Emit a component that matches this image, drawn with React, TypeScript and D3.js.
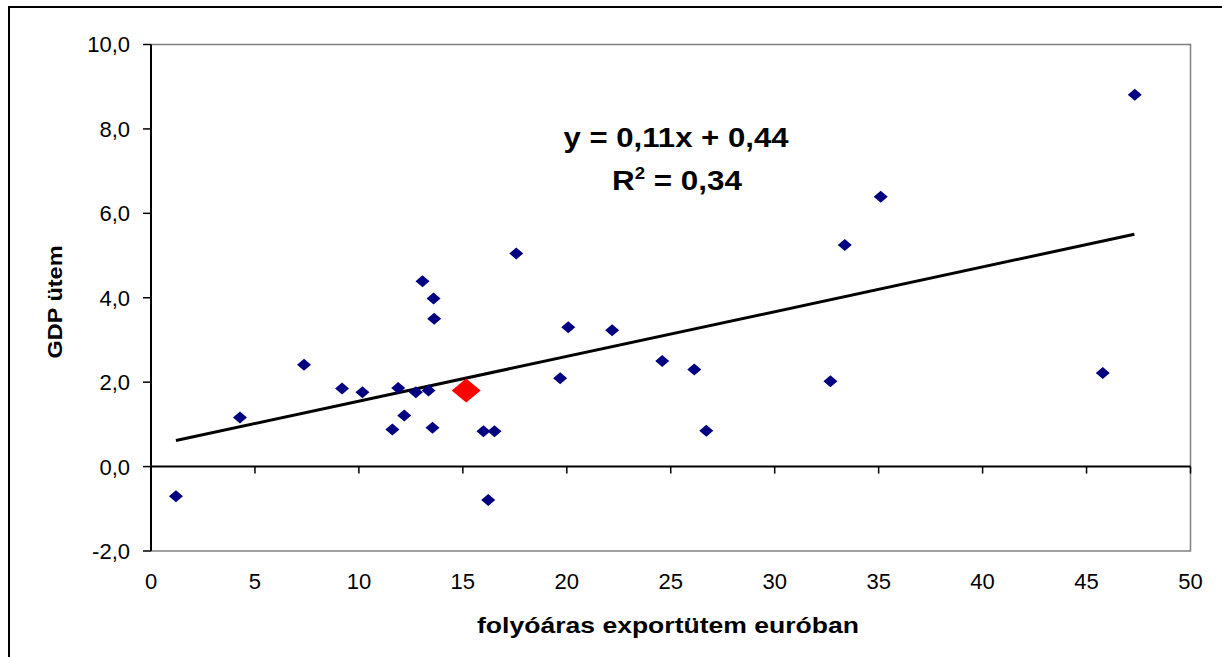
import React from "react";
import * as d3 from "d3";

const exportGrowth = [1.2, 4.28, 7.36, 9.19, 10.17, 11.89, 12.74, 13.35, 11.61, 12.18, 13.54, 13.06, 13.59, 13.62, 15.99, 16.52, 16.22, 17.57, 20.07, 22.18, 19.68, 24.59, 26.13, 26.71, 32.68, 33.37, 35.1, 45.78, 47.32];
const gdpGrowth = [-0.7, 1.16, 2.41, 1.85, 1.76, 1.86, 1.76, 1.8, 0.88, 1.21, 0.92, 4.39, 3.98, 3.5, 0.84, 0.84, -0.79, 5.05, 3.3, 3.23, 2.09, 2.5, 2.3, 0.85, 2.02, 5.25, 6.39, 2.22, 8.81];
const highlight = { x: 15.16, y: 1.8 };
const trendSlope = 0.106;
const trendIntercept = 0.49;
const trendRange = [1.2, 47.3];
const xTicks = [0, 5, 10, 15, 20, 25, 30, 35, 40, 45, 50];
const yTicks = [-2, 0, 2, 4, 6, 8, 10];
const equationText = "y = 0,11x + 0,44";
const r2Value = "0,34";
const xTitle = "folyóáras exportütem euróban";
const yTitle = "GDP ütem";

const FONT = "'Liberation Sans', Arial, sans-serif";

export default function App() {
  const left = 151, right = 1190.5, top = 44.5, bottom = 551;
  const x = d3.scaleLinear().domain([0, 50]).range([left, right]);
  const y = d3.scaleLinear().domain([-2, 10]).range([bottom, top]);
  const fmt = (v: number) => v.toFixed(1).replace(".", ",");
  const diamond = (cx: number, cy: number, w: number, h: number) =>
    `M${cx},${cy - h / 2}L${cx + w / 2},${cy}L${cx},${cy + h / 2}L${cx - w / 2},${cy}Z`;
  const line = d3.line<number>().x((d) => x(d)).y((d) => y(trendSlope * d + trendIntercept));

  return (
    <svg width={1222} height={657} style={{ position: "fixed", left: 0, top: 0, background: "#fff" }} fontFamily={FONT}>
      <rect x={0} y={0} width={1222} height={657} fill="#fff" />
      {/* outer chart frame (cut off at right/bottom) */}
      <rect x={9} y={7} width={1300} height={700} fill="none" stroke="#000" strokeWidth={2} />
      {/* plot area border */}
      <path d={`M${left},${top}H${right}V${bottom}H${left}`} fill="none" stroke="#808080" strokeWidth={1.5} />
      {/* y axis */}
      <line x1={left} x2={left} y1={top} y2={bottom} stroke="#000" strokeWidth={2} />
      {yTicks.map((t) => (
        <g key={t}>
          <line x1={left - 8} x2={left} y1={y(t)} y2={y(t)} stroke="#000" strokeWidth={1.5} />
          <text x={130} y={y(t)} dy="0.36em" textAnchor="end" fontSize={22}>{fmt(t)}</text>
        </g>
      ))}
      {/* x axis at y=0 */}
      <line x1={left} x2={right} y1={y(0)} y2={y(0)} stroke="#000" strokeWidth={2} />
      {xTicks.map((t) => (
        <g key={t}>
          {t > 0 && <line x1={x(t)} x2={x(t)} y1={y(0)} y2={y(0) + 7} stroke="#000" strokeWidth={1.5} />}
          <text x={x(t)} y={581} dy="0.36em" textAnchor="middle" fontSize={22}>{t}</text>
        </g>
      ))}
      {/* trend line */}
      <path d={line(trendRange) || ""} fill="none" stroke="#000" strokeWidth={3} />
      {/* points */}
      {exportGrowth.map((xv, i) => (
        <path key={i} d={diamond(x(xv), y(gdpGrowth[i]), 14, 12)} fill="#000080" />
      ))}
      <path d={diamond(x(highlight.x), y(highlight.y), 29, 24)} fill="#ff0000" />
      {/* equation */}
      <text x={676} y={137} dy="0.36em" textAnchor="middle" fontSize={27} fontWeight="bold" textLength={225} lengthAdjust="spacingAndGlyphs">{equationText}</text>
      <text x={677} y={190} textAnchor="middle" fontSize={27} fontWeight="bold" textLength={130} lengthAdjust="spacingAndGlyphs">
        R<tspan dy={-11} fontSize={16}>2</tspan><tspan dy={11}> = {r2Value}</tspan>
      </text>
      {/* axis titles */}
      <text x={668} y={625} dy="0.36em" textAnchor="middle" fontSize={22} fontWeight="bold" textLength={382} lengthAdjust="spacingAndGlyphs">{xTitle}</text>
      <text transform={`translate(54,302) rotate(-90)`} dy="0.36em" textAnchor="middle" fontSize={21} fontWeight="bold" textLength={113} lengthAdjust="spacingAndGlyphs">{yTitle}</text>
    </svg>
  );
}
